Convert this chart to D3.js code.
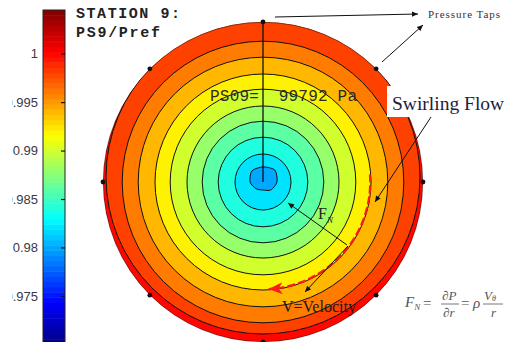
<!DOCTYPE html>
<html>
<head>
<meta charset="utf-8">
<script src="https://cdn.jsdelivr.net/npm/d3@7"></script>
<style>
  html, body { margin: 0; padding: 0; background: #fff; overflow: hidden; }
  svg { display: block; }
</style>
</head>
<body>
<svg id="chart" width="507" height="342"></svg>
<script>
// Station 9: static pressure ratio PS9/Pref over the pipe cross-section

// colour scale limits and colour-bar ticks
const colorDomain = [0.97, 1.0045];
const colorbarTicks = [0.975, 0.98, 0.985, 0.99, 0.995, 1];
const colorbarTickLabels = ["0.975", "0.98", "0.985", "0.99", "0.995", "1"];

// contour lines (inner to outer) and their radius as a fraction of the pipe radius
const contourLevels = [0.981, 0.983, 0.985, 0.987, 0.989, 0.991, 0.993, 0.995, 0.997, 0.999];
const contourRadius = [0.085, 0.175, 0.28, 0.38, 0.475, 0.58, 0.675, 0.78, 0.88, 0.981];
const contourShiftY = [0, 0, 0, 0, 0, 0, 0, 0, 0, -0.031];
// pressure ratio of the band just inside each contour, and at the wall
const bandLevels = [0.980, 0.982, 0.984, 0.986, 0.988, 0.990, 0.992, 0.994, 0.996, 0.998];
const wallLevel = 1.000;

// the core contour (0.981) is not round: radius by direction, clockwise from +x
const coreAngles = [0, 45, 90, 135, 180, 225, 270, 315];
const coreRadius = [0.0875, 0.07, 0.05, 0.06, 0.081, 0.098, 0.094, 0.105];

// pressure taps on the wall (degrees, clockwise from +x)
const tapAngles = [0, 45, 90, 135, 180, 225, 270, 315];

// swirl direction arc (fraction of radius, start/end angle in degrees)
const swirlArc = { r: 0.67, from: -4, to: 87 };

const stationTitle = ["STATION 9:", "PS9/Pref"];
const stationReading = "PS09=  99792 Pa";

const svg = d3.select("#chart");
const cx = 263, cy = 182, R = 160;

const px = d3.scaleLinear().domain([-1, 1]).range([cx - R, cx + R]);
const py = d3.scaleLinear().domain([-1, 1]).range([cy - R, cy + R]);
const rScale = d3.scaleLinear().domain([0, 1]).range([0, R]);
const tScale = d3.scaleLinear().domain(colorDomain).range([0, 1]);

// classic "jet" colormap
function jet(t) {
  const c = v => Math.max(0, Math.min(1, v));
  const r = c(1.5 - Math.abs(4 * t - 3));
  const g = c(1.5 - Math.abs(4 * t - 2));
  const b = c(1.5 - Math.abs(4 * t - 1));
  return d3.rgb(r * 255, g * 255, b * 255).formatHex();
}
const color = v => jet(tScale(v));

// ---------- defs ----------
const defs = svg.append("defs");
defs.append("clipPath").attr("id", "pipe")
  .append("circle").attr("cx", cx).attr("cy", cy).attr("r", R);
defs.append("clipPath").attr("id", "labelClip")
  .append("rect").attr("x", 12).attr("y", 0).attr("width", 40).attr("height", 342);

defs.append("marker").attr("id", "arrowBlack")
  .attr("viewBox", "0 0 10 10").attr("refX", 10).attr("refY", 5)
  .attr("markerUnits", "userSpaceOnUse")
  .attr("markerWidth", 7).attr("markerHeight", 6).attr("orient", "auto")
  .append("path").attr("d", "M0,0.5 L10,5 L0,9.5 Z").attr("fill", "#111");

defs.append("marker").attr("id", "arrowRed")
  .attr("viewBox", "0 0 14 12").attr("refX", 14).attr("refY", 6)
  .attr("markerUnits", "userSpaceOnUse")
  .attr("markerWidth", 14).attr("markerHeight", 12).attr("orient", "auto")
  .append("path").attr("d", "M0,0 L14,6 L0,12 L4,6 Z").attr("fill", "#ff1a1a");

// ---------- colour bar ----------
const cbX = 43, cbW = 22;
const cbY = d3.scaleLinear().domain(colorDomain).range([344.4, 10]);
const nSteps = 64;
const span = colorDomain[1] - colorDomain[0];
const cb = svg.append("g");
cb.selectAll("rect.step").data(d3.range(nSteps)).join("rect")
  .attr("class", "step")
  .attr("x", cbX).attr("width", cbW)
  .attr("y", i => cbY(colorDomain[0] + (i + 1) * span / nSteps))
  .attr("height", i => cbY(colorDomain[0] + i * span / nSteps) - cbY(colorDomain[0] + (i + 1) * span / nSteps) + 0.5)
  .attr("fill", i => jet((i + 0.5) / nSteps));
cb.append("rect").attr("x", cbX).attr("y", cbY(colorDomain[1]))
  .attr("width", cbW).attr("height", cbY(colorDomain[0]) - cbY(colorDomain[1]))
  .attr("fill", "none").attr("stroke", "#222").attr("stroke-width", 1);

// inward tick marks on the right edge
const tickAxis = svg.append("g").attr("transform", `translate(${cbX + cbW},0)`)
  .call(d3.axisLeft(cbY).tickValues(colorbarTicks).tickSize(4).tickFormat(""));
tickAxis.select(".domain").remove();
tickAxis.selectAll(".tick line").attr("stroke", "#111").attr("stroke-width", 1.2);

// tick labels
const labelAxis = svg.append("g").attr("clip-path", "url(#labelClip)")
  .append("g").attr("transform", "translate(39,0)")
  .call(d3.axisLeft(cbY).tickValues(colorbarTicks).tickSize(0).tickPadding(1)
    .tickFormat((d, i) => colorbarTickLabels[i]));
labelAxis.select(".domain").remove();
labelAxis.selectAll(".tick text")
  .attr("font-family", "'Liberation Sans', Arial, sans-serif")
  .attr("font-size", 13).attr("fill", "#3a3a48");

// station title
svg.append("g").selectAll("text").data(stationTitle).join("text")
  .attr("x", 76).attr("y", (d, i) => 18 + i * 18.5)
  .attr("font-family", "'Liberation Mono', 'Courier New', monospace")
  .attr("font-weight", "bold").attr("font-size", 15).attr("fill", "#222")
  .attr("textLength", (d, i) => i === 0 ? 104 : 84)
  .attr("lengthAdjust", "spacing")
  .text(d => d);

// ---------- pressure contours ----------
const disc = svg.append("g").attr("clip-path", "url(#pipe)");
disc.append("circle").attr("cx", cx).attr("cy", cy).attr("r", R)
  .attr("fill", color(wallLevel));

const coreShape = d3.lineRadial()
  .angle(d => (d.a + 90) * Math.PI / 180)
  .radius(d => rScale(d.r))
  .curve(d3.curveCardinalClosed.tension(0.2));

const rings = contourLevels.map((lv, i) => ({
  level: lv, r: contourRadius[i], dy: contourShiftY[i], band: bandLevels[i], idx: i
})).reverse();

rings.forEach(d => {
  if (d.idx === 0) {
    const pts = coreAngles.map((a, k) => ({ a: a, r: coreRadius[k] }));
    disc.append("path")
      .attr("transform", `translate(${cx},${cy})`)
      .attr("d", coreShape(pts))
      .attr("fill", color(d.band)).attr("stroke", "#111").attr("stroke-width", 1);
  } else {
    disc.append("circle")
      .attr("cx", px(0)).attr("cy", py(d.dy)).attr("r", rScale(d.r))
      .attr("fill", color(d.band)).attr("stroke", "#111").attr("stroke-width", 1);
  }
});

// pipe wall
svg.append("circle").attr("cx", cx).attr("cy", cy).attr("r", R - 0.3)
  .attr("fill", "none").attr("stroke", "#3a1a10").attr("stroke-width", 0.8).attr("stroke-opacity", 0.7);

// radial line from the centre to the top tap
svg.append("line").attr("x1", px(0)).attr("y1", py(0)).attr("x2", px(0)).attr("y2", py(-1))
  .attr("stroke", "#111").attr("stroke-width", 1.3);

// pressure taps
svg.append("g").selectAll("circle").data(tapAngles).join("circle")
  .attr("cx", a => px(Math.cos(a * Math.PI / 180)))
  .attr("cy", a => py(Math.sin(a * Math.PI / 180)))
  .attr("r", 2.4).attr("fill", "#111");

// reading at the station
svg.append("text").attr("x", 210).attr("y", 101)
  .attr("font-family", "'Liberation Mono', 'Courier New', monospace")
  .attr("font-size", 16).attr("fill", "#2a2a2a")
  .attr("textLength", 147).attr("lengthAdjust", "spacing")
  .attr("xml:space", "preserve").style("white-space", "pre")
  .text(stationReading);

// ---------- annotations ----------
const ann = svg.append("g");
const arrow = (x1, y1, x2, y2) => ann.append("line")
  .attr("x1", x1).attr("y1", y1).attr("x2", x2).attr("y2", y2)
  .attr("stroke", "#111").attr("stroke-width", 1).attr("marker-end", "url(#arrowBlack)");

// swirl direction
const swirlPath = d3.path();
swirlPath.arc(cx, cy, rScale(swirlArc.r), swirlArc.from * Math.PI / 180, swirlArc.to * Math.PI / 180);
ann.append("path").attr("d", swirlPath.toString())
  .attr("fill", "none").attr("stroke", "#ff1a1a").attr("stroke-width", 2.2)
  .attr("stroke-dasharray", "8,3").attr("marker-end", "url(#arrowRed)");

arrow(275, 17, 418, 14);
arrow(382, 62, 423, 25);
arrow(431, 117, 375, 202);
arrow(347, 245, 288, 203);
arrow(348, 246, 305, 292);

const serif = "'Liberation Serif', 'Times New Roman', serif";

ann.append("text").attr("x", 428).attr("y", 18)
  .attr("font-family", serif)
  .attr("font-size", 11).attr("fill", "#333")
  .attr("textLength", 72).attr("lengthAdjust", "spacing")
  .text("Pressure Taps");

ann.append("rect").attr("x", 387).attr("y", 86).attr("width", 125).attr("height", 31).attr("fill", "#fff");
ann.append("text").attr("x", 392).attr("y", 110)
  .attr("font-family", serif)
  .attr("font-size", 19.5).attr("fill", "#1e1e3c")
  .text("Swirling Flow");

// normal force label with subscript
const fn = ann.append("text").attr("x", 318).attr("y", 219)
  .attr("font-family", serif).attr("font-size", 16).attr("fill", "#222");
fn.append("tspan").text("F");
fn.append("tspan").attr("dy", 4).attr("font-size", 9).attr("font-style", "italic").text("N");

ann.append("text").attr("x", 282).attr("y", 312)
  .attr("font-family", serif).attr("font-size", 16).attr("fill", "#1a1a1a")
  .text("V=Velocity");

// normal force relation
const fx = svg.append("g").attr("font-family", serif).attr("fill", "#555").attr("font-style", "italic");
const lhs = fx.append("text").attr("x", 405).attr("y", 307).attr("font-size", 15);
lhs.append("tspan").text("F");
lhs.append("tspan").attr("dy", 3).attr("font-size", 9).text("N");
fx.append("text").attr("x", 423).attr("y", 308).attr("font-size", 15).attr("font-style", "normal").text("=");
fx.append("text").attr("x", 442).attr("y", 300).attr("font-size", 13).text("\u2202P");
fx.append("text").attr("x", 443).attr("y", 317).attr("font-size", 13).text("\u2202r");
fx.append("text").attr("x", 461).attr("y", 308).attr("font-size", 15).attr("font-style", "normal").text("=");
fx.append("text").attr("x", 473).attr("y", 308).attr("font-size", 15).text("\u03C1");
const num = fx.append("text").attr("x", 484).attr("y", 300).attr("font-size", 13);
num.append("tspan").text("V");
num.append("tspan").attr("dy", 1).attr("font-size", 8).text("\u03B8");
fx.append("text").attr("x", 491).attr("y", 317).attr("font-size", 13).text("r");
fx.append("line").attr("x1", 441).attr("x2", 459).attr("y1", 304).attr("y2", 304)
  .attr("stroke", "#555").attr("stroke-width", 0.8);
fx.append("line").attr("x1", 483).attr("x2", 503).attr("y1", 304).attr("y2", 304)
  .attr("stroke", "#555").attr("stroke-width", 0.8);
</script>
</body>
</html>
